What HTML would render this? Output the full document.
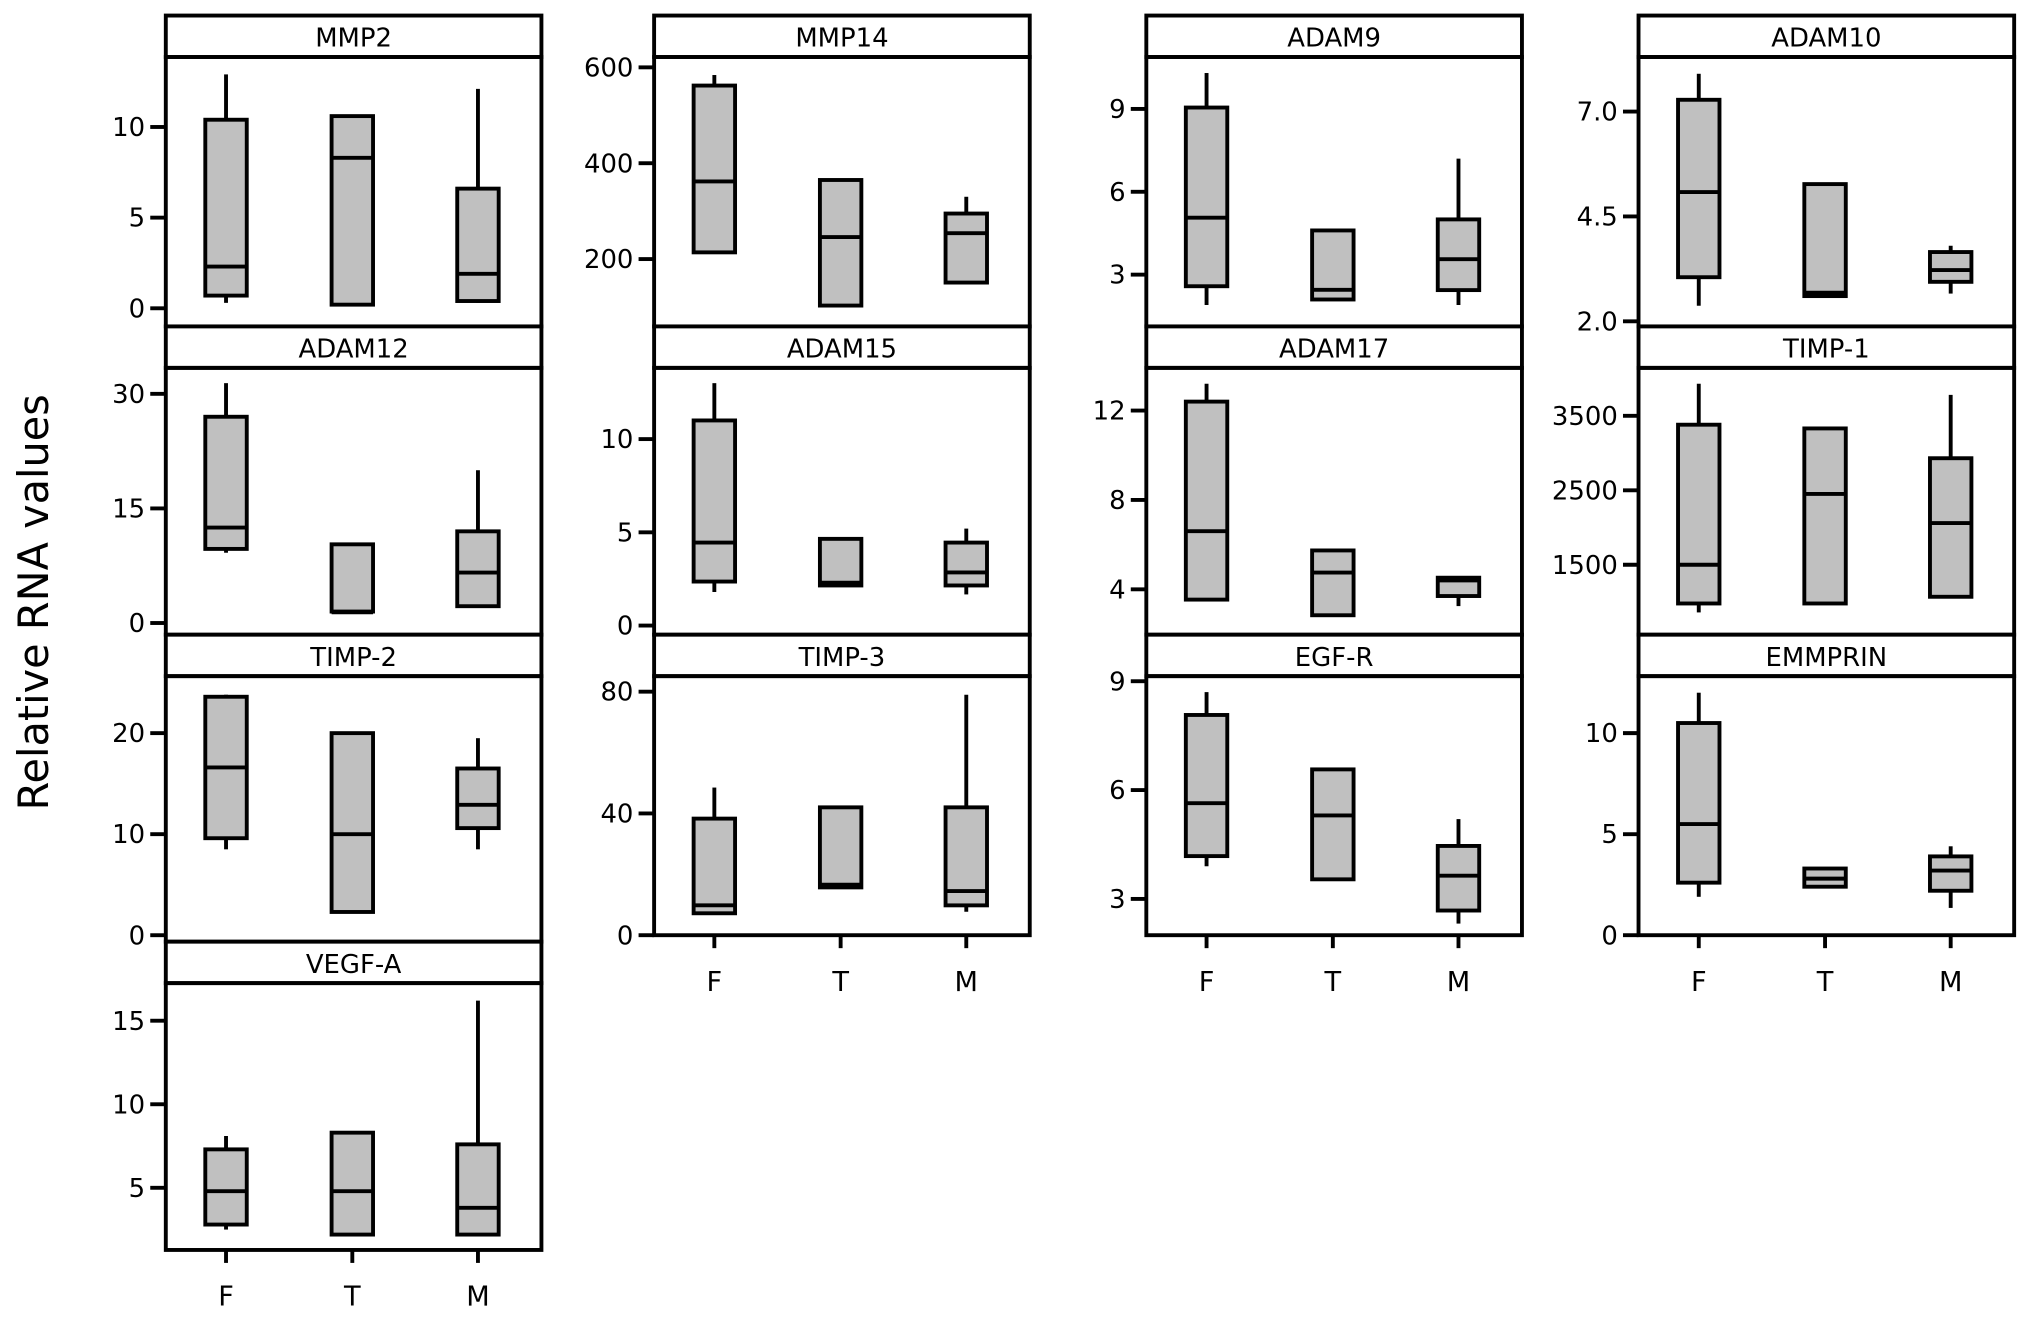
<!DOCTYPE html>
<html><head><meta charset="utf-8"><style>
html,body{margin:0;padding:0;background:#fff}
svg{display:block}
text{font-family:"DejaVu Sans","Liberation Sans",sans-serif;fill:#000}
</style></head><body>
<svg id="chart" width="2031" height="1319" viewBox="0 0 1568 1018.3" xmlns="http://www.w3.org/2000/svg">
<text x="0" y="0" font-size="32" text-anchor="middle" transform="translate(37,465) rotate(-90)">Relative RNA values</text>
</svg>
<script>
const names = ["MMP2","MMP14","ADAM9","ADAM10","ADAM12","ADAM15","ADAM17","TIMP-1","TIMP-2","TIMP-3","EGF-R","EMMPRIN","VEGF-A"];
const categories = ["F","T","M"];
const domains = [[-1,13.86],[59.5,621.6],[1.125,10.88],[1.877,8.30],[-1.53,33.4],[-0.49,13.82],[1.97,13.91],[561,4143],[-0.64,25.64],[0,85.1],[2.0,9.14],[0,12.82],[1.28,17.25]];
const ticks = [[0,5,10],[200,400,600],[3,6,9],[2.0,4.5,7.0],[0,15,30],[0,5,10],[4,8,12],[1500,2500,3500],[0,10,20],[0,40,80],[3,6,9],[0,5,10],[5,10,15]];
const tickLabels = [["0","5","10"],["200","400","600"],["3","6","9"],["2.0","4.5","7.0"],["0","15","30"],["0","5","10"],["4","8","12"],["1500","2500","3500"],["0","10","20"],["0","40","80"],["3","6","9"],["0","5","10"],["5","10","15"]];
// stats per panel: [F,T,M] each [low whisker, q1, median, q3, high whisker]
const statsF = [[0.3,0.7,2.3,10.4,12.9],[214,214,362,562,584],[1.9,2.58,5.06,9.05,10.3],[2.37,3.05,5.08,7.28,7.9],[9.2,9.7,12.5,27,31.4],[1.8,2.36,4.45,11,13],[3.54,3.54,6.6,12.4,13.2],[860,980,1500,3380,3930],[8.5,9.6,16.6,23.6,23.8],[7.2,7.2,9.8,38.3,48.5],[3.9,4.18,5.64,8.07,8.7],[1.9,2.6,5.5,10.5,12],[2.5,2.8,4.8,7.3,8.1]];
const statsT = [[0.2,0.2,8.3,10.6,10.6],[103,103,246,365,365],[2.1,2.1,2.45,4.6,4.6],[2.6,2.6,2.68,5.27,5.27],[1.4,1.5,1.4,10.3,10.3],[2.15,2.15,2.3,4.65,4.65],[2.84,2.84,4.75,5.74,5.74],[980,980,2450,3330,3330],[2.3,2.3,10,20,20],[15.7,15.7,16.6,42,42],[3.54,3.54,5.3,6.57,6.57],[2.4,2.4,2.8,3.3,3.3],[2.2,2.2,4.8,8.3,8.3]];
const statsM = [[0.3,0.4,1.9,6.6,12.1],[151,151,254,295,330],[1.9,2.44,3.56,5.0,7.2],[2.66,2.94,3.22,3.65,3.8],[2.2,2.2,6.6,12,20],[1.67,2.15,2.85,4.45,5.2],[3.25,3.7,4.4,4.52,4.52],[1070,1070,2060,2930,3780],[8.5,10.6,12.9,16.5,19.5],[7.7,9.8,14.5,42,79],[2.32,2.68,3.64,4.46,5.2],[1.35,2.2,3.2,3.9,4.4],[2.2,2.2,3.8,7.6,16.2]];

const NS="http://www.w3.org/2000/svg";
const svg=document.getElementById('chart');
const colL=[128,505,885,1265], W=290, HH=32;
const rowTop=[12,252,490,727];
const catOff=[46.5,144,241], BW=32;
const SW=3;
function mk(tag,attrs,parent){const e=document.createElementNS(NS,tag);for(const k in attrs)e.setAttribute(k,attrs[k]);(parent||svg).appendChild(e);return e;}
names.forEach((nm,i)=>{
  const r=Math.floor(i/4), c=i%4;
  const x0=colL[c], top=rowTop[r];
  let bottom;
  if(r<2) bottom=rowTop[r+1];
  else if(r===2) bottom=(c===0)?727:722;
  else bottom=965;
  const pt=top+HH;
  const g=mk('g',{});
  
  
  const [d0,d1]=domains[i];
  const y=v=>bottom-(v-d0)/(d1-d0)*(bottom-pt);
  const hdr=mk('rect',{x:x0,y:top,width:W,height:HH,fill:'#fff',stroke:'#000','stroke-width':SW},g);
  
  
  const t=mk('text',{x:x0+W/2,y:top+24,'font-size':20,'text-anchor':'middle'},g);t.textContent=nm;
  
  
  const fr=mk('rect',{x:x0,y:pt,width:W,height:bottom-pt,fill:'none',stroke:'#000','stroke-width':SW},g);
  
  
  ticks[i].forEach((tv,k)=>{
    const yy=y(tv);
    mk('line',{x1:x0-12,x2:x0,y1:yy,y2:yy,stroke:'#000','stroke-width':SW},g);
    const tl=mk('text',{x:x0-16,y:yy+7,'font-size':20,'text-anchor':'end'},g);tl.textContent=tickLabels[i][k];
    
    
  });
  const sets=[statsF[i],statsT[i],statsM[i]];
  sets.forEach((s,k)=>{
    const cx=x0+catOff[k];
    const bg=mk('g',{},g);
    
    
    mk('line',{x1:cx,x2:cx,y1:y(s[4]),y2:y(s[3]),stroke:'#000','stroke-width':SW},bg);
    mk('line',{x1:cx,x2:cx,y1:y(s[1]),y2:y(s[0]),stroke:'#000','stroke-width':SW},bg);
    mk('rect',{x:cx-BW/2,y:y(s[3]),width:BW,height:Math.max(1,y(s[1])-y(s[3])),fill:'#c0c0c0',stroke:'#000','stroke-width':SW},bg);
    mk('line',{x1:cx-BW/2,x2:cx+BW/2,y1:y(s[2]),y2:y(s[2]),stroke:'#000','stroke-width':SW},bg);
  });
  const isBottom=(c===0&&r===3)||(c>0&&r===2);
  if(isBottom){
    categories.forEach((cat,k)=>{
      const cx=x0+catOff[k];
      mk('line',{x1:cx,x2:cx,y1:bottom,y2:bottom+10,stroke:'#000','stroke-width':SW},g);
      const xl=mk('text',{x:cx,y:bottom+43,'font-size':21,'text-anchor':'middle'},g);xl.textContent=cat;
      
      
    });
  }
});
</script>
</body></html>
